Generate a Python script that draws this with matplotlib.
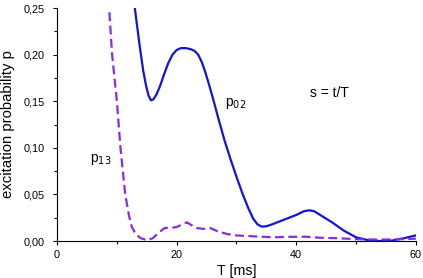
import matplotlib.pyplot as plt
from matplotlib.ticker import MultipleLocator, FuncFormatter

plt.rcParams['font.family'] = ['Liberation Sans', 'DejaVu Sans']

# p02 (solid blue)
t02 = [12.5, 13.0, 13.8, 14.4, 14.9, 15.3, 15.7, 16.1, 16.6, 17.2, 17.9, 18.6,
       19.3, 20.0, 20.7, 21.5, 22.3, 23.0, 23.6, 24.2, 24.8, 25.5, 26.2, 27.0,
       28.0, 29.0, 30.0, 31.0, 32.0, 32.8, 33.5, 34.2, 35.0, 36.0, 38.0, 40.0,
       41.3, 42.2, 43.0, 44.0, 46.0, 48.0, 50.0, 52.0, 54.0, 56.0, 58.0, 60.0]
p02 = [0.28, 0.25, 0.21, 0.183, 0.166, 0.156, 0.151, 0.152, 0.157, 0.166, 0.179, 0.191,
       0.200, 0.205, 0.207, 0.207, 0.206, 0.204, 0.200, 0.192, 0.181, 0.166, 0.150, 0.131,
       0.108, 0.088, 0.069, 0.051, 0.035, 0.024, 0.018, 0.0155, 0.0158, 0.018, 0.023, 0.028,
       0.032, 0.033, 0.032, 0.028, 0.02, 0.011, 0.004, 0.001, 0.0, 0.0005, 0.003, 0.006]

# p13 (dashed purple)
t13 = [8.0, 8.7, 9.2, 10.0, 10.6, 11.4, 12.0, 12.5, 13.2, 14.0, 15.0, 16.0, 17.0,
       18.0, 19.0, 20.0, 21.0, 21.7, 22.5, 23.3, 24.5, 25.6, 27.0, 28.5, 30.0, 33.0,
       36.0, 39.0, 41.7, 44.0, 47.0, 50.0, 54.0, 58.0, 60.0]
p13 = [0.30, 0.25, 0.20, 0.15, 0.10, 0.05, 0.028, 0.015, 0.007, 0.003, 0.001, 0.003, 0.009,
       0.014, 0.014, 0.015, 0.018, 0.020, 0.017, 0.014, 0.013, 0.014, 0.010, 0.0075, 0.006, 0.005,
       0.004, 0.0045, 0.0046, 0.0035, 0.003, 0.002, 0.0015, 0.002, 0.0025]

fig = plt.figure(figsize=(4.23, 2.78), dpi=100)
ax = fig.add_axes([0.135, 0.133, 0.848, 0.838])

ax.plot(t02, p02, color='#1414d8', lw=1.6)
ax.plot(t13, p13, color='#8a2be2', lw=1.6, ls=(0, (4, 2)))

ax.set_xlim(0, 60)
ax.set_ylim(0, 0.25)
ax.xaxis.set_major_locator(MultipleLocator(20))
ax.xaxis.set_minor_locator(MultipleLocator(10))
ax.yaxis.set_major_locator(MultipleLocator(0.05))
ax.yaxis.set_minor_locator(MultipleLocator(0.025))
ax.yaxis.set_major_formatter(FuncFormatter(lambda v, p: f'{v:.2f}'.replace('.', ',')))
ax.tick_params(which='both', direction='out', labelsize=7.8, width=0.8, colors='black')
ax.tick_params(which='major', length=3)
ax.tick_params(which='minor', length=2.5)
ax.tick_params(axis='y', which='major', pad=6)
ax.spines['top'].set_visible(False)
ax.spines['right'].set_visible(False)

ax.set_xlabel('T [ms]', fontsize=10.3, labelpad=3)
ax.set_ylabel('excitation probability p', fontsize=10.7, labelpad=6)

ax.text(28.0, 0.145, r'p$_{02}$', fontsize=10)
ax.text(42.3, 0.155, 's = t/T', fontsize=10)
ax.text(5.5, 0.085, r'p$_{13}$', fontsize=10)

plt.savefig('out.png', dpi=100)
